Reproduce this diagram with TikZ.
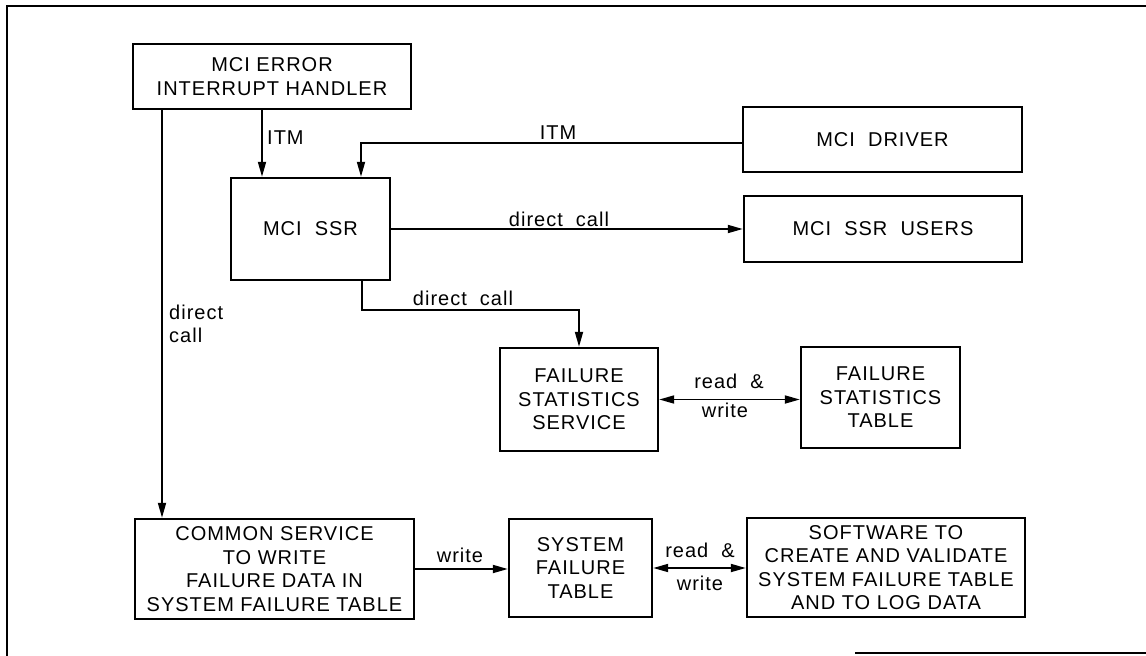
\documentclass[tikz,border=0pt]{standalone}
\usepackage{fontspec}
\setmainfont{Liberation Sans}[LetterSpace=5]
\usetikzlibrary{arrows.meta,calc}
\begin{document}
\begin{tikzpicture}[x=1pt,y=-1pt,
  box/.style={draw, line width=2.4pt, align=center, inner sep=0pt,
    font=\fontsize{20}{23.5}\selectfont},
  lab/.style={inner sep=0pt, font=\fontsize{20}{24}\selectfont},
  conn/.style={line width=1.8pt},
  arr/.style={conn, -{Triangle[length=15pt,width=8pt]}},
  dbl/.style={conn, {Triangle[length=15pt,width=8pt]}-{Triangle[length=15pt,width=8pt]}},
  frame/.style={line width=1.4pt}]
\useasboundingbox (0,0) rectangle (1146,656);
% outer frame
\coordinate (f1) at (1146,6);
\coordinate (f2) at (7,6);
\coordinate (f3) at (7,656);
\coordinate (f4) at (855,653);
\coordinate (f5) at (1146,653);
\draw[frame] (f1) -- (f2) -- (f3);
\draw[frame] (f4) -- (f5);
% boxes
\node[box, minimum width=278pt, minimum height=65pt] (eih) at (272,76.5) {MCI ERROR\\INTERRUPT HANDLER};
\node[box, minimum width=279pt, minimum height=65pt] (drv) at (882.5,139.5) {MCI\ \ DRIVER};
\node[box, minimum width=159pt, minimum height=102pt] (ssr) at (310.5,229) {MCI\ \ SSR};
\node[box, minimum width=278pt, minimum height=66pt] (usr) at (883,229) {MCI\ \ SSR\ \ USERS};
\node[box, minimum width=158pt, minimum height=103pt] (fss) at (579,399.5) {FAILURE\\STATISTICS\\SERVICE};
\node[box, minimum width=159pt, minimum height=101pt] (fst) at (880.5,397.5) {FAILURE\\STATISTICS\\TABLE};
\node[box, minimum width=279pt, minimum height=100pt] (cs) at (274.5,569) {COMMON SERVICE\\TO WRITE\\FAILURE DATA IN\\SYSTEM FAILURE TABLE};
\node[box, minimum width=143pt, minimum height=98pt] (sft) at (580.5,568) {SYSTEM\\FAILURE\\TABLE};
\node[box, minimum width=278pt, minimum height=99pt] (sw) at (886,567.5) {SOFTWARE TO\\CREATE AND VALIDATE\\SYSTEM FAILURE TABLE\\AND TO LOG DATA};
% helper coordinates
\coordinate (x1) at (262,0);
\coordinate (x2) at (361,0);
\coordinate (c1) at (362,310);
\coordinate (x4) at (162,0);
% ITM from error handler
\draw[arr] (eih.south -| x1) -- (ssr.north -| x1);
\node[lab, anchor=base west] (itm1) at (267,144) {ITM};
% ITM from driver
\draw[arr] ($(drv.west)+(0,3.5)$) -- ($(drv.west -| x2)+(0,3.5)$) -- (ssr.north -| x2);
\node[lab, anchor=base] (itm2) at (558,139) {ITM};
% direct call to users
\draw[arr] (ssr.east) -- (usr.west);
\node[lab, anchor=base] (dc1) at (559,226) {direct\ \ call};
% direct call to failure statistics service
\draw[arr] (ssr.south -| c1) -- (c1) -| (fss.north);
\node[lab, anchor=base] (dc2) at (463,305) {direct\ \ call};
% read & write
\draw[dbl] (fss.east) -- (fss.east -| fst.west);
\node[lab, anchor=base] (rw1a) at (729,388) {read\ \ \&};
\node[lab, anchor=base] (rw1b) at (725,417) {write};
% direct call down the left
\draw[arr] (eih.south -| x4) -- (cs.north -| x4);
\node[lab, anchor=base west] (dc3a) at (169,319) {direct};
\node[lab, anchor=base west] (dc3b) at (169,342) {call};
% write
\draw[arr] (cs.east) -- (cs.east -| sft.west);
\node[lab, anchor=base] (wr) at (460,562) {write};
% read & write (bottom)
\draw[dbl] (sft.east) -- (sft.east -| sw.west);
\node[lab, anchor=base] (rw2a) at (700,557) {read\ \ \&};
\node[lab, anchor=base] (rw2b) at (700,590) {write};
\end{tikzpicture}
\end{document}
